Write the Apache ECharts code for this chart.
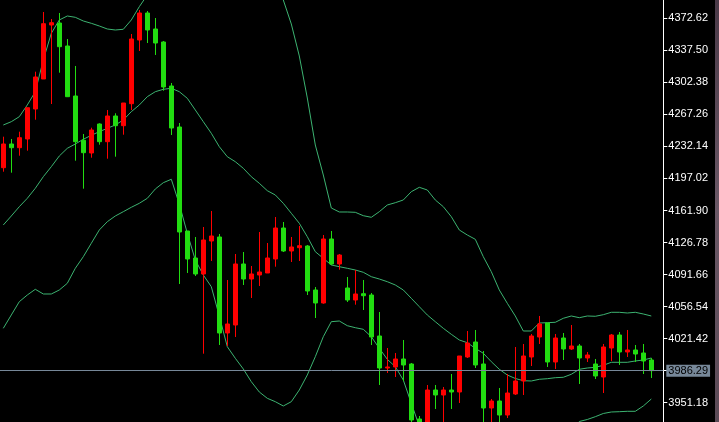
<!DOCTYPE html>
<html><head><meta charset="utf-8">
<script src="https://cdn.jsdelivr.net/npm/echarts@6/dist/echarts.min.js"></script>
<style>html,body{margin:0;padding:0;background:#000;overflow:hidden}#c{width:719px;height:422px}</style>
</head><body><div id="c"></div>
<script>
// OHLC values (price units)
const opens  = [4208.81,4234.80,4230.74,4240.28,4273.17,4306.06,4365.27,4367.46,4342.25,4287.43,4238.86,4224.93,4256.73,4237.32,4265.50,4254.86,4278.98,4348.82,4378.43,4360.88,4346.63,4298.39,4253.44,4139.41,4109.81,4092.27,4128.45,4132.83,4027.58,4036.35,4103.23,4086.78,4091.17,4093.36,4108.71,4142.70,4117.48,4121.10,4122.97,4074.72,4060.47,4130.64,4103.23,4076.92,4063.76,4070.67,4069.24,4024.29,3989.20,3990.30,3999.07,3993.59,3933.29,3925.61,3965.08,3959.60,3965.08,3962.89,4001.27,4017.71,3993.59,3945.35,3953.02,3937.67,3960.70,3974.95,4001.27,4023.19,4038.54,3995.78,4022.10,4010.04,4013.33,4000.17,3993.59,3979.34,4011.13,4025.39,4006.75,4008.94,4005.65,3997.98];
const closes = [4234.80,4230.74,4241.71,4274.60,4308.26,4366.70,4367.79,4341.48,4286.66,4237.32,4225.26,4250.15,4237.32,4265.50,4254.86,4279.75,4349.92,4378.43,4359.79,4345.53,4297.29,4252.34,4138.32,4108.71,4092.27,4129.54,4133.93,4027.58,4037.45,4103.23,4086.78,4092.27,4094.46,4109.81,4142.70,4117.48,4121.87,4123.29,4073.63,4060.47,4130.64,4103.23,4113.10,4063.76,4070.34,4068.47,4023.19,3989.20,3990.30,3999.07,3992.49,3932.19,3925.61,3965.08,3959.60,3965.08,3962.89,4002.36,4016.61,3992.49,3945.35,3953.02,3937.67,3961.79,3974.95,4002.36,4024.29,4037.45,3995.78,4022.10,4010.04,4013.33,4000.17,4003.46,3980.43,4012.23,4025.39,4006.75,4008.94,4004.55,3996.88,3986.29];
const lows   = [4204.43,4203.33,4221.97,4227.45,4261.44,4306.06,4278.65,4312.97,4286.66,4216.49,4185.79,4219.78,4234.03,4218.68,4220.87,4245.00,4272.08,4336.76,4345.53,4332.38,4293.24,4244.67,4081.30,4093.36,4090.07,4004.88,4106.52,4014.42,4013.33,4023.19,4080.21,4065.95,4079.11,4093.36,4100.27,4116.39,4105.42,4106.52,4069.24,4044.02,4059.70,4102.13,4096.98,4061.57,4058.61,4052.80,4014.42,3970.57,3983.72,3979.34,3974.95,3926.71,3919.04,3921.23,3944.25,3927.81,3944.25,3950.83,4000.17,3989.20,3927.81,3927.81,3927.81,3934.38,3959.60,3959.60,3991.40,4015.52,3990.30,3988.11,3997.98,4008.94,3971.66,3995.78,3977.14,3961.79,3996.88,3992.49,4001.27,3995.78,3982.63,3978.24];
const highs  = [4242.80,4240.28,4248.28,4274.60,4314.07,4379.52,4371.85,4378.43,4349.92,4320.32,4245.76,4252.67,4257.49,4272.08,4268.46,4279.75,4355.40,4381.72,4380.62,4372.94,4347.73,4301.68,4257.82,4139.41,4132.83,4143.80,4161.34,4136.12,4085.69,4114.19,4116.39,4101.04,4138.32,4126.25,4154.76,4149.28,4132.83,4144.89,4124.06,4078.01,4135.03,4139.41,4114.19,4088.98,4096.65,4085.69,4071.43,4050.60,4011.13,4005.65,4019.90,3994.69,3936.58,3970.57,3970.57,3968.37,3982.63,4002.36,4029.77,4030.87,4007.84,3955.22,3967.28,3982.63,4012.23,4015.52,4026.48,4046.22,4038.54,4026.48,4027.58,4036.35,4015.52,4006.75,3999.07,4015.52,4026.48,4028.68,4030.87,4014.42,4015.52,4000.17];
// Bollinger band values
const upperBand  = [4255.63,4259.25,4264.73,4277.56,4292.14,4326.90,4356.17,4370.75,4375.14,4373.71,4369.66,4367.13,4364.17,4360.88,4359.79,4360.56,4370.75,4385.33,4398.16,4398.16,4397.07,4395.97,4417.90,4433.25,4436.54,4427.76,4414.61,4412.42,4428.86,4431.05,4427.76,4423.38,4421.19,4411.32,4405.84,4392.68,4366.37,4331.28,4285.23,4233.70,4200.81,4164.63,4160.24,4160.24,4159.91,4156.19,4154.43,4160.57,4167.92,4170.44,4173.40,4182.50,4187.32,4184.36,4173.40,4166.05,4155.09,4140.51,4135.03,4130.31,4111.23,4094.79,4074.72,4060.14,4046.22,4029.77,4029.77,4038.54,4038.87,4039.31,4043.70,4046.22,4044.35,4046.22,4045.89,4047.64,4050.27,4050.27,4049.51,4050.27,4048.41,4046.22];
const middleBand = [4145.99,4155.86,4166.05,4175.26,4186.23,4198.95,4209.91,4221.64,4230.08,4234.80,4239.95,4244.34,4248.28,4252.01,4255.63,4261.11,4270.21,4277.56,4286.66,4292.14,4294.77,4295.87,4292.14,4284.90,4272.08,4259.25,4246.53,4231.84,4220.87,4215.39,4208.16,4198.95,4191.71,4183.60,4178.88,4169.78,4158.82,4147.86,4133.16,4116.72,4109.48,4102.13,4100.27,4098.51,4096.65,4094.13,4089.31,4086.78,4083.82,4080.21,4074.72,4065.62,4056.41,4047.31,4039.97,4032.73,4026.15,4019.90,4016.94,4010.80,4005.32,3996.11,3987.78,3981.53,3977.69,3975.28,3974.95,3976.82,3977.47,3978.57,3979.01,3982.30,3987.78,3989.20,3989.97,3992.17,3995.45,3995.45,3995.45,3996.88,3997.98,4000.17];
const lowerBand  = [4032.73,4047.31,4061.90,4069.24,4075.49,4070.34,4070.34,4074.72,4082.07,4098.52,4111.23,4125.93,4140.51,4149.61,4155.86,4160.57,4165.40,4169.78,4175.26,4185.46,4192.37,4196.10,4169.01,4136.89,4107.62,4091.17,4078.34,4046.22,4012.56,3999.84,3988.11,3974.19,3962.89,3955.98,3952.26,3947.54,3952.26,3965.08,3981.53,4001.59,4023.52,4039.97,4040.74,4035.58,4033.39,4031.63,4023.52,4010.80,3998.74,3990.63,3976.05,3950.50,3925.61,3910.26,3906.97,3899.30,3897.11,3899.30,3899.30,3891.63,3899.30,3897.11,3900.40,3902.59,3909.17,3921.23,3920.13,3914.65,3915.75,3917.94,3914.65,3917.94,3930.55,3932.74,3935.81,3939.32,3940.96,3941.29,3941.73,3941.73,3947.54,3955.22];
// Price-axis tick labels shown on the right
const tickLabels = ['3951.18','4021.42','4056.54','4091.66','4126.78','4161.90','4197.02','4232.14','4267.26','4302.38','4337.50','4372.62'];
const bidPrice = 3986.29;
// bar slots: one per candle plus one empty slot before the price scale
const categories = opens.map((_, i) => 'B' + (i + 1)).concat(['']);

const candleData = opens.map((o, i) => [o, closes[i], lows[i], highs[i]]);

const chart = echarts.init(document.getElementById('c'), null, {renderer: 'canvas'});
const bandStyle = {type: 'line', symbol: 'none', silent: true, animation: false,
  lineStyle: {color: '#3cb371', width: 1}, z: 1};
chart.setOption({
  backgroundColor: '#000000',
  animation: false,
  graphic: [{
    type: 'rect', right: 0, top: 0, silent: true, z: -1,
    shape: {width: 4, height: 422},
    style: {fill: new echarts.graphic.LinearGradient(0, 0, 0, 1, [
      {offset: 0, color: '#4a3a48'}, {offset: 0.5, color: '#6a5866'}, {offset: 1, color: '#5a4a56'}])}
  }],
  grid: {left: -0.7, width: 664, top: -13.74, height: 448.45, containLabel: false, outerBoundsMode: 'none'},
  xAxis: {type: 'category', data: categories, boundaryGap: true, show: false},
  yAxis: {
    type: 'value', position: 'right', min: 3916.06, max: 4407.74, interval: 35.12,
    splitLine: {show: false},
    axisLine: {show: true, lineStyle: {color: '#ffffff', width: 1}},
    axisTick: {show: true, length: 4, lineStyle: {color: '#ffffff'}},
    axisLabel: {
      color: '#ffffff', margin: 5, fontSize: 11,
      fontFamily: '"Liberation Sans Narrow", "Liberation Sans", Arial, sans-serif',
      formatter: v => { const s = v.toFixed(2); return tickLabels.includes(s) ? s : ''; }
    }
  },
  series: [
    Object.assign({name: 'upper', data: upperBand}, bandStyle),
    Object.assign({name: 'middle', data: middleBand}, bandStyle),
    Object.assign({name: 'lower', data: lowerBand}, bandStyle),
    {
      type: 'candlestick', data: candleData, barWidth: 4, z: 3,
      itemStyle: {color: '#ff0000', color0: '#22dd11', borderColor: '#ff0000', borderColor0: '#22dd11', borderWidth: 1},
      markLine: {
        silent: true, symbol: ['none', 'none'], animation: false,
        lineStyle: {color: '#778899', width: 1, type: 'solid'},
        label: {
          show: true, position: 'end', distance: 3, formatter: bidPrice.toFixed(2),
          backgroundColor: '#778899', color: '#000000', padding: [1, 2, 0, 2], fontSize: 11,
          fontFamily: '"Liberation Sans Narrow", "Liberation Sans", Arial, sans-serif'
        },
        data: [{yAxis: bidPrice}]
      }
    }
  ]
});
</script></body></html>
